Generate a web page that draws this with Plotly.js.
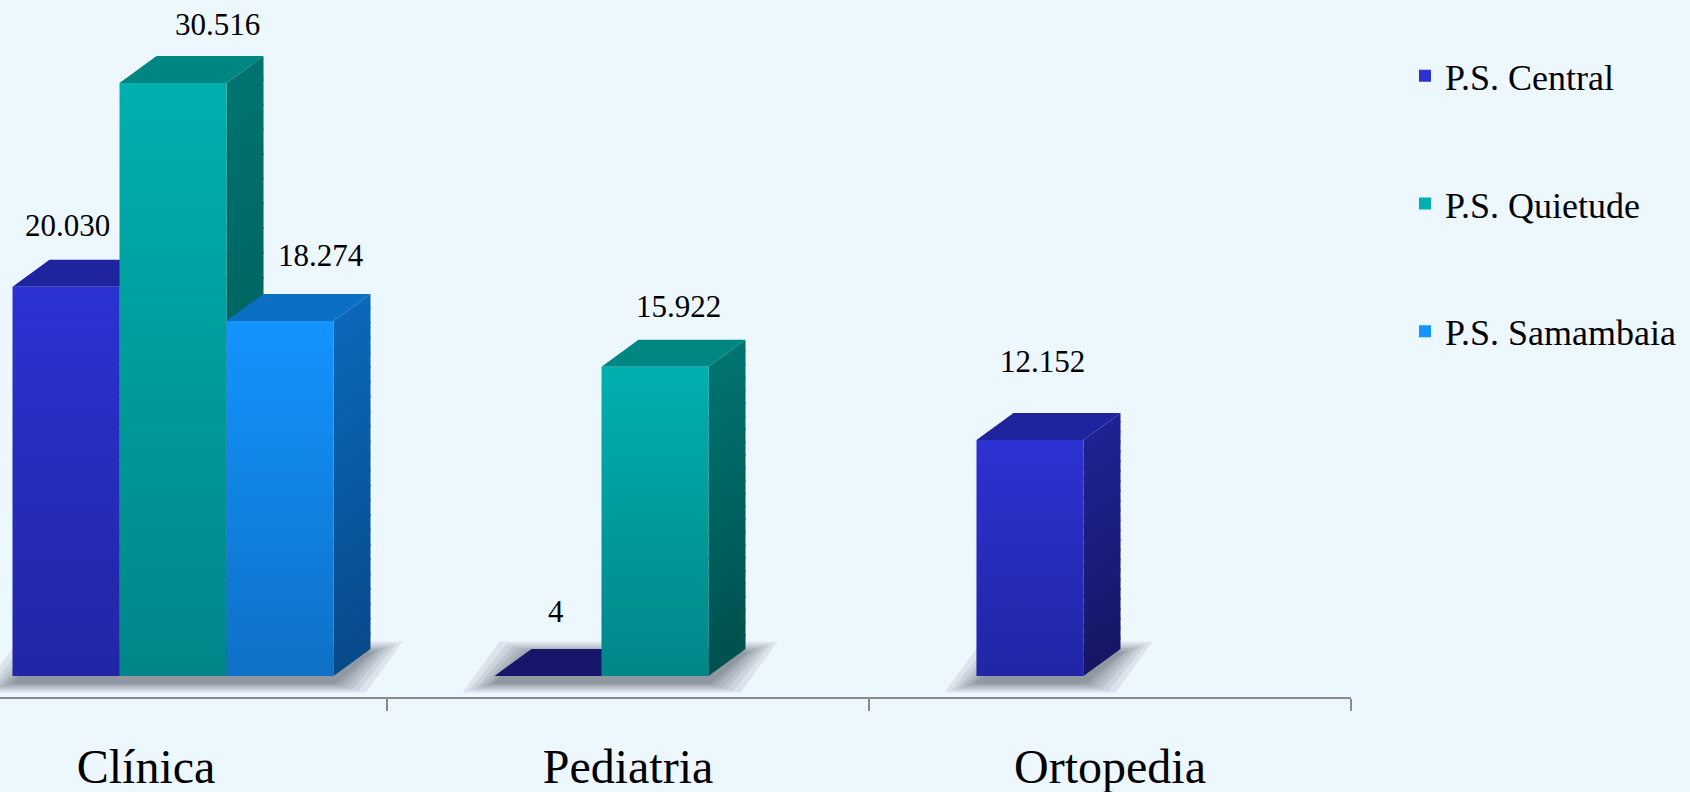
<!DOCTYPE html>
<html>
<head>
<meta charset="utf-8">
<script src="https://cdn.plot.ly/plotly-3.0.1.min.js"></script>
<style>
html,body{margin:0;padding:0;background:#EDF7FE;}
#chart{width:1690px;height:792px;}
</style>
</head>
<body>
<div id="chart"></div>
<script>
// ---- data ----
const categories = ["Clínica", "Pediatria", "Ortopedia"];
const seriesNames = ["P.S. Central", "P.S. Quietude", "P.S. Samambaia"];
const central = [20030, 4, 12152];
const quietude = [30516, 15922, null];
const samambaia = [18274, null, null];
const seriesValues = [central, quietude, samambaia];

// ---- styling ----
const frontColors = ["#2C31D2", "#00B0AE", "#1394FF"];
const topColors = ["#1F239E", "#008682", "#0B70C4"];
const sideTopColors = [[31, 34, 148], [0, 116, 113], [11, 104, 186]];
const sideBottomColors = [[21, 23, 100], [0, 80, 78], [8, 74, 138]];
const flatTopColor = "#16176A";
// label nudges (px): [series][category]
const labelDx = [[1, 8, 12], [44, 23, 0], [41, 0, 0]];
const labelDy = [[42, 45, 59], [39, 41, 0], [46, 0, 0]];
const fontFamily = "Liberation Serif, Times New Roman, serif";

const W = 1690, H = 792;
const mB = 95;
const plotW = 1351, plotH = H - mB;
const xRange = [-0.303, 2.5];
const yRange = [-1081, 34792];
const xPerPx = (xRange[1] - xRange[0]) / plotW;
const yPerPx = (yRange[1] - yRange[0]) / plotH;

const barW = 107 * xPerPx;
const groupStart = -0.277;
const depthX = 37 * xPerPx;
const depthY = 27 * yPerPx;

function fmt(v) {
  const s = String(Math.round(v));
  return s.replace(/\B(?=(\d{3})+(?!\d))/g, ".");
}
function has(v) { return v !== null && v !== undefined; }
function mix(a, b, t) {
  return "rgb(" + a.map((c, k) => Math.round(c + (b[k] - c) * t)).join(",") + ")";
}

const traces = seriesValues.map((vals, i) => ({
  type: "bar",
  name: seriesNames[i],
  legendgroup: "g" + i,
  x: categories,
  y: vals,
  width: barW,
  offset: groupStart + i * barW,
  marker: { color: frontColors[i], line: { width: 0 } },
  hoverinfo: "x+y+name"
}));

const shapes = [];
const annotations = [];

// soft shadows under each group (stacked translucent layers)
categories.forEach((c, ci) => {
  const present = seriesValues.map((s, i) => has(s[ci]) ? i : -1).filter(i => i >= 0);
  if (!present.length) return;
  const left = ci + groupStart + present[0] * barW;
  const right = ci + groupStart + (present[present.length - 1] + 1) * barW;
  [32, 25, 19, 14, 9, 5, 2].forEach((g) => {
    const gx = g * xPerPx;
    const y0 = -(7 + g * 0.3) * yPerPx;
    const y1 = depthY - (4 - g * 0.35) * yPerPx;
    shapes.push({
      type: "path", xref: "x", yref: "y", layer: "below",
      path: `M ${left - gx},${y0} L ${right + gx},${y0} L ${right + depthX + gx},${y1} L ${left + depthX - gx},${y1} Z`,
      fillcolor: "rgba(70,80,90,0.11)", line: { width: 0 }
    });
  });
});

// 3D sides (banded gradient) and tops, left to right
const bands = 24;
categories.forEach((c, ci) => {
  seriesValues.forEach((vals, i) => {
    const v = vals[ci];
    if (!has(v)) return;
    const x0 = ci + groupStart + i * barW;
    const x1 = x0 + barW;
    for (let k = 0; k < bands; k++) {
      const a = v * k / bands;
      const b = Math.min(v, v * (k + 1) / bands + 2 * yPerPx);
      shapes.push({
        type: "path", xref: "x", yref: "y", layer: "below",
        path: `M ${x1},${a} L ${x1},${b} L ${x1 + depthX},${b + depthY} L ${x1 + depthX},${a + depthY} Z`,
        fillcolor: mix(sideBottomColors[i], sideTopColors[i], (k + 0.5) / bands), line: { width: 0 }
      });
    }
    shapes.push({
      type: "path", xref: "x", yref: "y", layer: "below",
      path: `M ${x0},${v} L ${x1},${v} L ${x1 + depthX},${v + depthY} L ${x0 + depthX},${v + depthY} Z`,
      fillcolor: v < 100 ? flatTopColor : topColors[i], line: { width: 0 }
    });
    // shading overlay for the front face (vertical gradient)
    if (v > 100) {
      traces.push({
        type: "scatter", xaxis: "x2", yaxis: "y",
        x: [x0, x1, x1, x0, x0], y: [0, 0, v, v, 0],
        mode: "none", fill: "toself",
        fillgradient: { type: "vertical", colorscale: [[0, "rgba(0,0,20,0.24)"], [1, "rgba(0,0,20,0)"]] },
        showlegend: false, hoverinfo: "skip"
      });
    }
    annotations.push({
      x: x0 + barW / 2, y: v, xref: "x", yref: "y",
      text: fmt(v), showarrow: false,
      xanchor: "center", yanchor: "bottom",
      xshift: labelDx[i][ci], yshift: labelDy[i][ci],
      font: { family: fontFamily, size: 31, color: "#000000" }
    });
  });
});

const layout = {
  width: W, height: H,
  margin: { l: 0, r: 0, t: 0, b: mB, pad: 0 },
  paper_bgcolor: "#EDF7FE",
  plot_bgcolor: "#EDF7FE",
  font: { family: fontFamily, color: "#000000" },
  barmode: "overlay",
  showlegend: true,
  legend: {
    x: 1405 / W, xanchor: "left",
    y: 1 - 52 / H, yanchor: "top",
    bgcolor: "rgba(0,0,0,0)",
    font: { family: fontFamily, size: 36, color: "#000000" },
    tracegroupgap: 78,
    traceorder: "grouped"
  },
  xaxis: {
    domain: [0, plotW / W],
    range: xRange,
    type: "category",
    showline: true, linecolor: "#8C8C8C", linewidth: 2,
    ticks: "outside", tickson: "boundaries", ticklen: 12, tickwidth: 2, tickcolor: "#8C8C8C",
    showgrid: false, zeroline: false,
    tickfont: { family: fontFamily, size: 48, color: "#000000" },
    ticklabelstandoff: 26,
    fixedrange: true
  },
  xaxis2: {
    domain: [0, plotW / W],
    range: xRange,
    type: "linear",
    overlaying: "x", anchor: "y",
    visible: false, showgrid: false, zeroline: false,
    fixedrange: true
  },
  yaxis: {
    range: yRange,
    visible: false, showgrid: false, zeroline: false,
    fixedrange: true
  },
  shapes: shapes,
  annotations: annotations
};

Plotly.newPlot("chart", traces, layout, { displayModeBar: false, staticPlot: true });
</script>
</body>
</html>
